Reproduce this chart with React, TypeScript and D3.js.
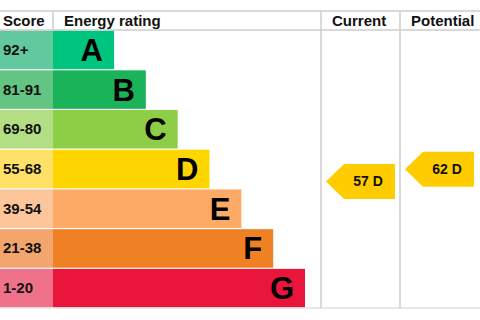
import React from "react";
import * as d3 from "d3";

const ratings = ["A", "B", "C", "D", "E", "F", "G"];
const scoreRanges = ["92+", "81-91", "69-80", "55-68", "39-54", "21-38", "1-20"];
const bandLows = [92, 81, 69, 55, 39, 21, 1];
const bandHighs = [100, 91, 80, 68, 54, 38, 20];
const barColors = ["#00c57e", "#1bb35a", "#8dce46", "#ffd500", "#fcaa65", "#ef8023", "#e9153b"];
const scoreColors = ["#62c89d", "#63c483", "#b3de84", "#ffe167", "#fdc59a", "#f2a56c", "#f0728a"];
const headers = ["Score", "Energy rating", "Current", "Potential"];
const currentScore = 57;
const potentialScore = 62;

const W = 480;
const H = 320;
const top = 11;
const headTop = 30;
const bottom = 308;
const colX = [0, 53, 321, 400];
const font = "'Liberation Sans', Arial, sans-serif";
const lineColor = "#cdcdcd";

const ratingOf = (score: number) => bandLows.findIndex((lo) => score >= lo);

const App = () => {
  const y = d3
    .scaleBand<string>()
    .domain(ratings)
    .range([headTop, bottom])
    .paddingInner(0.03)
    .paddingOuter(0.015);

  const barEnd = d3.scaleLinear().domain([0, ratings.length - 1]).range([114, 305]);

  // position of a score inside its rating band
  const scoreY = (score: number) => {
    const i = ratingOf(score);
    const y0 = y(ratings[i])!;
    return d3
      .scaleLinear()
      .domain([bandLows[i], bandHighs[i]])
      .range([y0 + y.bandwidth() - 2, y0 + 5])(score);
  };

  const arrow = (x0: number, score: number) => {
    const cy = scoreY(score);
    const i = ratingOf(score);
    const tip = x0 + 5;
    const bx = x0 + 23;
    const ex = x0 + 74;
    const h = 17.5;
    const d = `M${tip},${cy} L${bx},${cy - h} L${ex},${cy - h} L${ex},${cy + h} L${bx},${cy + h} Z`;
    return (
      <g>
        <path d={d} fill="#ffcc00" />
        <text
          x={x0 + 47}
          y={cy + 5}
          textAnchor="middle"
          fontFamily={font}
          fontWeight="bold"
          fontSize={14}
          fill="#111"
        >
          {`${score} ${ratings[i]}`}
        </text>
      </g>
    );
  };

  return (
    <svg width={W} height={H} style={{ position: "absolute", left: 0, top: 0, background: "#fff" }}>
      {ratings.map((r, i) => (
        <g key={r}>
          <rect x={colX[0]} y={y(r)} width={colX[1] - colX[0]} height={y.bandwidth()} fill={scoreColors[i]} />
          <rect x={colX[1]} y={y(r)} width={barEnd(i) - colX[1]} height={y.bandwidth()} fill={barColors[i]} />
          <text
            x={3}
            y={y(r)! + y.bandwidth() / 2 + 5}
            fontFamily={font}
            fontWeight="bold"
            fontSize={15}
            fill="#111"
          >
            {scoreRanges[i]}
          </text>
          <text
            x={barEnd(i) - 11}
            y={y(r)! + y.bandwidth() / 2 + 11}
            textAnchor="end"
            fontFamily={font}
            fontWeight="bold"
            fontSize={31}
            fill="#000"
          >
            {r}
          </text>
        </g>
      ))}
      <line x1={0} x2={W} y1={top} y2={top} stroke={lineColor} strokeWidth={1.5} />
      <line x1={0} x2={W} y1={headTop} y2={headTop} stroke={lineColor} strokeWidth={1.5} />
      <line x1={0} x2={W} y1={bottom} y2={bottom} stroke="#e0e0e0" strokeWidth={1.5} />
      <line x1={colX[1]} x2={colX[1]} y1={top} y2={headTop} stroke={lineColor} strokeWidth={1.5} />
      <line x1={colX[2]} x2={colX[2]} y1={top} y2={bottom} stroke={lineColor} strokeWidth={1.5} />
      <line x1={colX[3]} x2={colX[3]} y1={top} y2={bottom} stroke={lineColor} strokeWidth={1.5} />
      {headers.map((t, i) => (
        <text
          key={t}
          x={[3, 64, 332, 411][i]}
          y={26}
          fontFamily={font}
          fontWeight="bold"
          fontSize={15}
          fill="#111"
        >
          {t}
        </text>
      ))}
      {arrow(colX[2], currentScore)}
      {arrow(colX[3], potentialScore)}
    </svg>
  );
};

export default App;
